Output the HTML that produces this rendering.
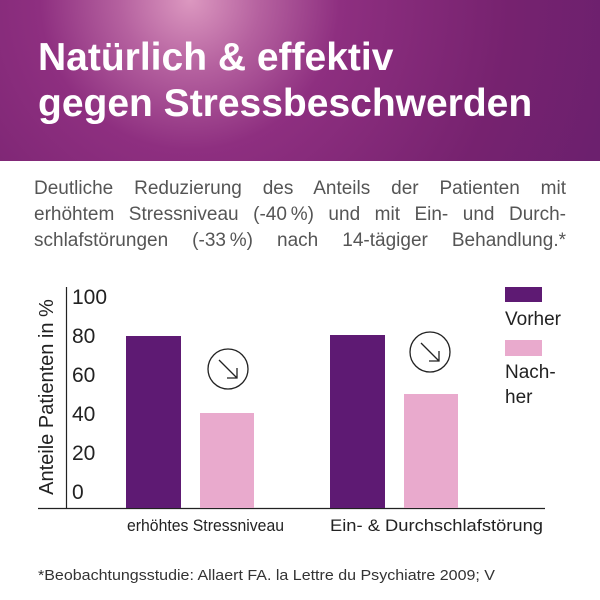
<!DOCTYPE html>
<html><head><meta charset="utf-8"><style>
body{margin:0;width:600px;height:600px;background:#fff;overflow:hidden;font-family:"Liberation Sans",sans-serif;position:relative}
.hd{position:absolute;left:0;top:0;width:600px;height:161px;background:radial-gradient(circle at 190px 0px,#dc98c0 0px,#b5619f 70px,#8e2f80 150px,#76226f 320px,#661f6e 500px)}
.t{position:absolute;left:38px;color:#fff;font-weight:bold;font-size:39px;letter-spacing:0px;white-space:nowrap}
.p{position:absolute;left:34px;width:532px;font-size:19px;line-height:26px;color:#555;text-align:justify;text-align-last:justify;white-space:nowrap}
</style></head><body>
<div class="hd"></div>
<div class="t" style="top:36px">Natürlich &amp; effektiv</div>
<div class="t" style="top:82px">gegen Stressbeschwerden</div>
<div class="p" style="top:176px">Deutliche Reduzierung des Anteils der Patienten mit</div>
<div class="p" style="top:202px">erhöhtem Stressniveau (-40&#8201;%) und mit Ein- und Durch-</div>
<div class="p" style="top:228px">schlafstörungen (-33&#8201;%) nach 14-tägiger Behandlung.*</div>
<svg width="600" height="600" style="position:absolute;left:0;top:0">
<line x1="66.5" y1="287" x2="66.5" y2="508" stroke="#222" stroke-width="1.2"/>
<line x1="38" y1="508.5" x2="545" y2="508.5" stroke="#222" stroke-width="1.2"/>
<rect x="126" y="336" width="55" height="172" fill="#5e1a73"/>
<rect x="200" y="413" width="54" height="95" fill="#e9aacd"/>
<rect x="330" y="335" width="55" height="173" fill="#5e1a73"/>
<rect x="404" y="394" width="54" height="114" fill="#e9aacd"/>
<g fill="none" stroke="#222" stroke-width="1.3">
<circle cx="228" cy="369" r="20"/><path d="M219 360 L237 378 M237 368 V378 H227"/>
<circle cx="430" cy="352" r="20"/><path d="M421 343 L439 361 M439 351 V361 H429"/>
</g>
<rect x="505" y="287" width="37" height="15" fill="#5e1a73"/>
<rect x="505" y="340" width="37" height="16" fill="#e9aacd"/>
<g font-family="Liberation Sans" font-size="21" fill="#222">
<text x="72" y="304">100</text><text x="72" y="343">80</text><text x="72" y="382">60</text>
<text x="72" y="421">40</text><text x="72" y="460">20</text><text x="72" y="499">0</text>
<text x="505" y="325" font-size="19">Vorher</text>
<text x="505" y="378" font-size="19">Nach-</text>
<text x="505" y="403" font-size="19">her</text>
<text x="127" y="531" font-size="17" textLength="157" lengthAdjust="spacingAndGlyphs">erhöhtes Stressniveau</text>
<text x="330" y="531" font-size="17" textLength="213" lengthAdjust="spacingAndGlyphs">Ein- &amp; Durchschlafstörung</text>
<text transform="translate(53,397) rotate(-90)" text-anchor="middle" font-size="20">Anteile Patienten in %</text>
<text x="38" y="580" font-size="15" fill="#333" textLength="457" lengthAdjust="spacingAndGlyphs">*Beobachtungsstudie: Allaert FA. la Lettre du Psychiatre 2009; V</text>
</g>
</svg>
</body></html>
